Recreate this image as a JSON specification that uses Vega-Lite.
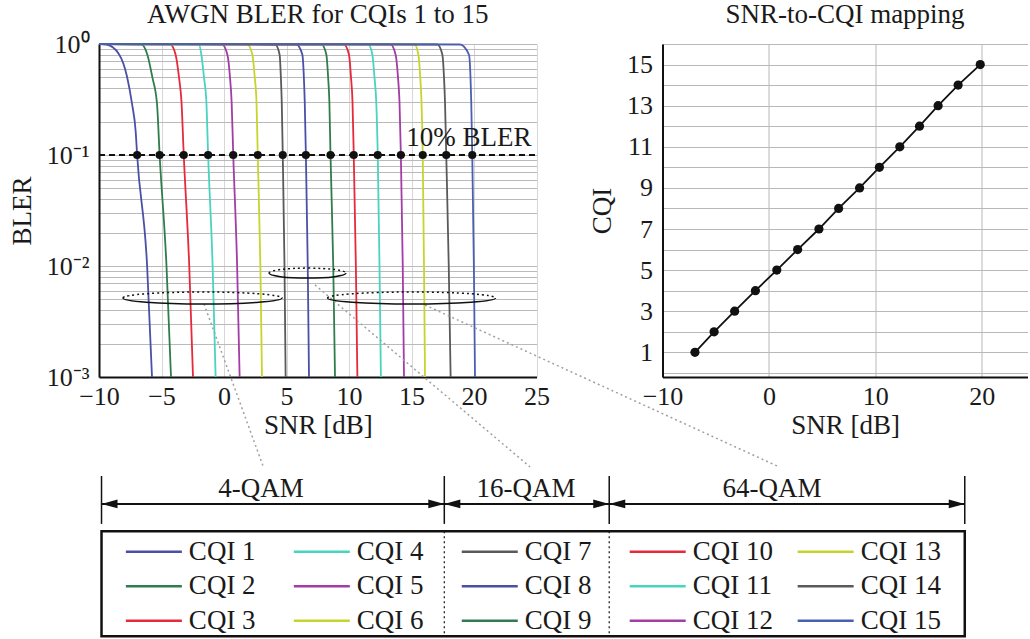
{
  "$schema": "https://vega.github.io/schema/vega-lite/v6.json",
  "padding": {"left": 8, "top": 1, "right": 0, "bottom": 0},
  "background": "white",
  "config": {
    "font": "Liberation Serif",
    "view": {"stroke": null},
    "axis": {"ticks": false, "domainColor": "#111111", "domainWidth": 2, "labelFontSize": 26, "titleFontSize": 27, "titleFontWeight": "normal", "labelColor": "#1a1a1a", "titleColor": "#1a1a1a", "gridWidth": 1, "labelFont": "Liberation Serif", "titleFont": "Liberation Serif"},
    "title": {"fontSize": 27, "fontWeight": "normal", "color": "#1a1a1a", "font": "Liberation Serif", "offset": 2, "anchor": "middle"},
    "text": {"font": "Liberation Serif"}
  },
  "datasets": {
    "map": [
      {"cqi": 1, "snr": -6.95}, {"cqi": 2, "snr": -5.15}, {"cqi": 3, "snr": -3.22}, {"cqi": 4, "snr": -1.27}, {"cqi": 5, "snr": 0.74},
      {"cqi": 6, "snr": 2.7}, {"cqi": 7, "snr": 4.7}, {"cqi": 8, "snr": 6.55}, {"cqi": 9, "snr": 8.52}, {"cqi": 10, "snr": 10.38},
      {"cqi": 11, "snr": 12.3}, {"cqi": 12, "snr": 14.15}, {"cqi": 13, "snr": 15.9}, {"cqi": 14, "snr": 17.78}, {"cqi": 15, "snr": 19.86}
    ],
    "bler": [
      {"cqi": "CQI 1", "snr": -10, "bler": 1}, {"cqi": "CQI 1", "snr": -9.4, "bler": 0.99}, {"cqi": "CQI 1", "snr": -8.4, "bler": 0.81}, {"cqi": "CQI 1", "snr": -7.76, "bler": 0.51}, {"cqi": "CQI 1", "snr": -7.36, "bler": 0.29}, {"cqi": "CQI 1", "snr": -7.06, "bler": 0.16}, {"cqi": "CQI 1", "snr": -6.95, "bler": 0.1}, {"cqi": "CQI 1", "snr": -6.15, "bler": 0.01}, {"cqi": "CQI 1", "snr": -5.76, "bler": 0.001},
      {"cqi": "CQI 2", "snr": -10, "bler": 1}, {"cqi": "CQI 2", "snr": -6.6, "bler": 0.99}, {"cqi": "CQI 2", "snr": -6.13, "bler": 0.8}, {"cqi": "CQI 2", "snr": -5.73, "bler": 0.5}, {"cqi": "CQI 2", "snr": -5.36, "bler": 0.29}, {"cqi": "CQI 2", "snr": -5.15, "bler": 0.1}, {"cqi": "CQI 2", "snr": -4.6, "bler": 0.01}, {"cqi": "CQI 2", "snr": -4.24, "bler": 0.001},
      {"cqi": "CQI 3", "snr": -10, "bler": 1}, {"cqi": "CQI 3", "snr": -4.3, "bler": 0.99}, {"cqi": "CQI 3", "snr": -3.87, "bler": 0.8}, {"cqi": "CQI 3", "snr": -3.6, "bler": 0.5}, {"cqi": "CQI 3", "snr": -3.4, "bler": 0.3}, {"cqi": "CQI 3", "snr": -3.22, "bler": 0.1}, {"cqi": "CQI 3", "snr": -2.78, "bler": 0.01}, {"cqi": "CQI 3", "snr": -2.48, "bler": 0.001},
      {"cqi": "CQI 4", "snr": -10, "bler": 1}, {"cqi": "CQI 4", "snr": -2.0, "bler": 0.99}, {"cqi": "CQI 4", "snr": -1.81, "bler": 0.8}, {"cqi": "CQI 4", "snr": -1.6, "bler": 0.5}, {"cqi": "CQI 4", "snr": -1.41, "bler": 0.3}, {"cqi": "CQI 4", "snr": -1.27, "bler": 0.1}, {"cqi": "CQI 4", "snr": -0.91, "bler": 0.01}, {"cqi": "CQI 4", "snr": -0.67, "bler": 0.001},
      {"cqi": "CQI 5", "snr": -10, "bler": 1}, {"cqi": "CQI 5", "snr": -0.15, "bler": 0.99}, {"cqi": "CQI 5", "snr": 0.27, "bler": 0.8}, {"cqi": "CQI 5", "snr": 0.48, "bler": 0.5}, {"cqi": "CQI 5", "snr": 0.61, "bler": 0.3}, {"cqi": "CQI 5", "snr": 0.74, "bler": 0.1}, {"cqi": "CQI 5", "snr": 1.05, "bler": 0.01}, {"cqi": "CQI 5", "snr": 1.25, "bler": 0.001},
      {"cqi": "CQI 6", "snr": -10, "bler": 1}, {"cqi": "CQI 6", "snr": 1.87, "bler": 0.99}, {"cqi": "CQI 6", "snr": 2.27, "bler": 0.8}, {"cqi": "CQI 6", "snr": 2.46, "bler": 0.5}, {"cqi": "CQI 6", "snr": 2.6, "bler": 0.3}, {"cqi": "CQI 6", "snr": 2.7, "bler": 0.1}, {"cqi": "CQI 6", "snr": 2.91, "bler": 0.01}, {"cqi": "CQI 6", "snr": 3.04, "bler": 0.001},
      {"cqi": "CQI 7", "snr": -10, "bler": 1}, {"cqi": "CQI 7", "snr": 4.1, "bler": 0.99}, {"cqi": "CQI 7", "snr": 4.45, "bler": 0.8}, {"cqi": "CQI 7", "snr": 4.55, "bler": 0.5}, {"cqi": "CQI 7", "snr": 4.62, "bler": 0.3}, {"cqi": "CQI 7", "snr": 4.7, "bler": 0.1}, {"cqi": "CQI 7", "snr": 4.84, "bler": 0.01}, {"cqi": "CQI 7", "snr": 4.93, "bler": 0.001},
      {"cqi": "CQI 8", "snr": -10, "bler": 1}, {"cqi": "CQI 8", "snr": 5.79, "bler": 0.99}, {"cqi": "CQI 8", "snr": 6.27, "bler": 0.8}, {"cqi": "CQI 8", "snr": 6.39, "bler": 0.5}, {"cqi": "CQI 8", "snr": 6.46, "bler": 0.3}, {"cqi": "CQI 8", "snr": 6.55, "bler": 0.1}, {"cqi": "CQI 8", "snr": 6.7, "bler": 0.01}, {"cqi": "CQI 8", "snr": 6.8, "bler": 0.001},
      {"cqi": "CQI 9", "snr": -10, "bler": 1}, {"cqi": "CQI 9", "snr": 7.81, "bler": 0.99}, {"cqi": "CQI 9", "snr": 8.19, "bler": 0.8}, {"cqi": "CQI 9", "snr": 8.33, "bler": 0.5}, {"cqi": "CQI 9", "snr": 8.43, "bler": 0.3}, {"cqi": "CQI 9", "snr": 8.52, "bler": 0.1}, {"cqi": "CQI 9", "snr": 8.74, "bler": 0.01}, {"cqi": "CQI 9", "snr": 8.88, "bler": 0.001},
      {"cqi": "CQI 10", "snr": -10, "bler": 1}, {"cqi": "CQI 10", "snr": 9.6, "bler": 0.99}, {"cqi": "CQI 10", "snr": 10.0, "bler": 0.8}, {"cqi": "CQI 10", "snr": 10.16, "bler": 0.5}, {"cqi": "CQI 10", "snr": 10.28, "bler": 0.3}, {"cqi": "CQI 10", "snr": 10.38, "bler": 0.1}, {"cqi": "CQI 10", "snr": 10.55, "bler": 0.01}, {"cqi": "CQI 10", "snr": 10.67, "bler": 0.001},
      {"cqi": "CQI 11", "snr": -10, "bler": 1}, {"cqi": "CQI 11", "snr": 11.55, "bler": 0.99}, {"cqi": "CQI 11", "snr": 11.87, "bler": 0.8}, {"cqi": "CQI 11", "snr": 12.04, "bler": 0.5}, {"cqi": "CQI 11", "snr": 12.18, "bler": 0.3}, {"cqi": "CQI 11", "snr": 12.3, "bler": 0.1}, {"cqi": "CQI 11", "snr": 12.44, "bler": 0.01}, {"cqi": "CQI 11", "snr": 12.55, "bler": 0.001},
      {"cqi": "CQI 12", "snr": -10, "bler": 1}, {"cqi": "CQI 12", "snr": 13.33, "bler": 0.99}, {"cqi": "CQI 12", "snr": 13.73, "bler": 0.8}, {"cqi": "CQI 12", "snr": 13.92, "bler": 0.5}, {"cqi": "CQI 12", "snr": 14.04, "bler": 0.3}, {"cqi": "CQI 12", "snr": 14.15, "bler": 0.1}, {"cqi": "CQI 12", "snr": 14.3, "bler": 0.01}, {"cqi": "CQI 12", "snr": 14.4, "bler": 0.001},
      {"cqi": "CQI 13", "snr": -10, "bler": 1}, {"cqi": "CQI 13", "snr": 15.25, "bler": 0.99}, {"cqi": "CQI 13", "snr": 15.55, "bler": 0.8}, {"cqi": "CQI 13", "snr": 15.7, "bler": 0.5}, {"cqi": "CQI 13", "snr": 15.8, "bler": 0.3}, {"cqi": "CQI 13", "snr": 15.9, "bler": 0.1}, {"cqi": "CQI 13", "snr": 16.0, "bler": 0.01}, {"cqi": "CQI 13", "snr": 16.08, "bler": 0.001},
      {"cqi": "CQI 14", "snr": -10, "bler": 1}, {"cqi": "CQI 14", "snr": 17.07, "bler": 0.99}, {"cqi": "CQI 14", "snr": 17.47, "bler": 0.8}, {"cqi": "CQI 14", "snr": 17.6, "bler": 0.5}, {"cqi": "CQI 14", "snr": 17.68, "bler": 0.3}, {"cqi": "CQI 14", "snr": 17.78, "bler": 0.1}, {"cqi": "CQI 14", "snr": 17.98, "bler": 0.01}, {"cqi": "CQI 14", "snr": 18.13, "bler": 0.001},
      {"cqi": "CQI 15", "snr": -10, "bler": 1}, {"cqi": "CQI 15", "snr": 18.88, "bler": 0.99}, {"cqi": "CQI 15", "snr": 19.6, "bler": 0.8}, {"cqi": "CQI 15", "snr": 19.72, "bler": 0.5}, {"cqi": "CQI 15", "snr": 19.78, "bler": 0.3}, {"cqi": "CQI 15", "snr": 19.86, "bler": 0.1}, {"cqi": "CQI 15", "snr": 19.99, "bler": 0.01}, {"cqi": "CQI 15", "snr": 20.08, "bler": 0.001}
    ],
    "legend": [
      {"cqi": "CQI 1", "c": 0, "r": 0}, {"cqi": "CQI 2", "c": 0, "r": 1}, {"cqi": "CQI 3", "c": 0, "r": 2},
      {"cqi": "CQI 4", "c": 1, "r": 0}, {"cqi": "CQI 5", "c": 1, "r": 1}, {"cqi": "CQI 6", "c": 1, "r": 2},
      {"cqi": "CQI 7", "c": 2, "r": 0}, {"cqi": "CQI 8", "c": 2, "r": 1}, {"cqi": "CQI 9", "c": 2, "r": 2},
      {"cqi": "CQI 10", "c": 3, "r": 0}, {"cqi": "CQI 11", "c": 3, "r": 1}, {"cqi": "CQI 12", "c": 3, "r": 2},
      {"cqi": "CQI 13", "c": 4, "r": 0}, {"cqi": "CQI 14", "c": 4, "r": 1}, {"cqi": "CQI 15", "c": 4, "r": 2}
    ]
  },
  "bounds": "flush",
  "columns": 2,
  "spacing": {"row": 99, "column": 125.5},
  "concat": [
    {
      "width": 437.5,
      "height": 333,
      "title": {"text": "AWGN BLER for CQIs 1 to 15"},
      "layer": [
        {
          "data": {"name": "bler"},
          "mark": {"type": "line", "interpolate": "monotone", "strokeWidth": 1.8},
          "encoding": {
            "x": {"field": "snr", "type": "quantitative", "title": "SNR [dB]", "scale": {"domain": [-10, 25], "nice": false, "zero": false}, "axis": {"values": [-10, -5, 0, 5, 10, 15, 20, 25], "gridColor": "#d6d6d6", "labelPadding": 6, "titlePadding": 3, "labelFlush": false}},
            "y": {"field": "bler", "type": "quantitative", "title": "BLER", "scale": {"type": "log", "domain": [0.001, 1], "nice": false}, "axis": {"values": [0.001, 0.002, 0.003, 0.004, 0.005, 0.006, 0.007, 0.008, 0.009, 0.01, 0.02, 0.03, 0.04, 0.05, 0.06, 0.07, 0.08, 0.09, 0.1, 0.2, 0.3, 0.4, 0.5, 0.6, 0.7, 0.8, 0.9, 1], "labelExpr": "datum.value == 1 ? '10⁰' : datum.value == 0.1 ? '10⁻¹' : datum.value == 0.01 ? '10⁻²' : datum.value == 0.001 ? '10⁻³' : ''", "labelOverlap": false, "labelPadding": 10, "titlePadding": 10, "gridColor": "#bababa"}},
            "color": {"field": "cqi", "type": "nominal", "legend": null, "scale": {"domain": ["CQI 1", "CQI 2", "CQI 3", "CQI 4", "CQI 5", "CQI 6", "CQI 7", "CQI 8", "CQI 9", "CQI 10", "CQI 11", "CQI 12", "CQI 13", "CQI 14", "CQI 15"], "range": ["#4b4fa6", "#2f7d4c", "#e52a3a", "#48d4c0", "#a23ca6", "#c8d42e", "#5a5a5a", "#4b4fa6", "#2f7d4c", "#e52a3a", "#48d4c0", "#a23ca6", "#c8d42e", "#5a5a5a", "#4b5fb0"]}}
          }
        },
        {
          "data": {"values": [{"snr": -10, "snr_end": 25, "bler": 0.1}]},
          "mark": {"type": "rule", "color": "#111111", "strokeWidth": 2, "strokeDash": [6, 4]},
          "encoding": {
            "x": {"field": "snr", "type": "quantitative", "title": "SNR [dB]"},
            "x2": {"field": "snr_end"},
            "y": {"field": "bler", "type": "quantitative", "title": "BLER"}
          }
        },
        {
          "data": {"name": "map"},
          "mark": {"type": "point", "filled": true, "color": "#111111", "size": 66, "opacity": 1},
          "encoding": {
            "x": {"field": "snr", "type": "quantitative", "title": "SNR [dB]"},
            "y": {"datum": 0.1}
          }
        },
        {
          "data": {"values": [{"snr": 24.6, "bler": 0.12, "label": "10% BLER"}]},
          "mark": {"type": "text", "fontSize": 27, "align": "right", "baseline": "alphabetic", "color": "#1a1a1a"},
          "encoding": {
            "x": {"field": "snr", "type": "quantitative", "title": "SNR [dB]"},
            "y": {"field": "bler", "type": "quantitative", "title": "BLER"},
            "text": {"field": "label"}
          }
        },
        {
          "data": {"values": [{"snr": -1.6, "bler": 0.00455, "conn": "4-QAM"}, {"snr": 3.12, "bler": 0.000158, "conn": "4-QAM"}, {"snr": 7.28, "bler": 0.00675, "conn": "16-QAM"}, {"snr": 24.48, "bler": 0.000155, "conn": "16-QAM"}, {"snr": 16.08, "bler": 0.00445, "conn": "64-QAM"}, {"snr": 44.24, "bler": 0.000158, "conn": "64-QAM"}]},
          "mark": {"type": "line", "color": "#a0a0a0", "strokeWidth": 1.5, "strokeDash": [2, 3]},
          "encoding": {
            "x": {"field": "snr", "type": "quantitative", "title": "SNR [dB]"},
            "y": {"field": "bler", "type": "quantitative", "title": "BLER"},
            "detail": {"field": "conn"}
          }
        },
        {
          "data": {"values": [{"snr": -1.72, "bler": 0.00515}]},
          "mark": {"type": "point", "shape": "M-1,0C-1,0.0417,-0.5523,0.0755,0,0.0755C0.5523,0.0755,1,0.0417,1,0", "size": 25281, "filled": false, "color": "#111111", "strokeWidth": 1.5, "opacity": 1},
          "encoding": {"x": {"field": "snr", "type": "quantitative", "title": "SNR [dB]"}, "y": {"field": "bler", "type": "quantitative", "title": "BLER"}}
        },
        {
          "data": {"values": [{"snr": -1.72, "bler": 0.00515}]},
          "mark": {"type": "point", "shape": "M-1,0C-1,-0.0417,-0.5523,-0.0755,0,-0.0755C0.5523,-0.0755,1,-0.0417,1,0", "size": 25281, "filled": false, "color": "#111111", "strokeWidth": 1.5, "strokeDash": [2, 3], "opacity": 1},
          "encoding": {"x": {"field": "snr", "type": "quantitative", "title": "SNR [dB]"}, "y": {"field": "bler", "type": "quantitative", "title": "BLER"}}
        },
        {
          "data": {"values": [{"snr": 6.68, "bler": 0.00863}]},
          "mark": {"type": "point", "shape": "M-1,0C-1,0.0718,-0.5523,0.13,0,0.13C0.5523,0.13,1,0.0718,1,0", "size": 5929, "filled": false, "color": "#111111", "strokeWidth": 1.5, "opacity": 1},
          "encoding": {"x": {"field": "snr", "type": "quantitative", "title": "SNR [dB]"}, "y": {"field": "bler", "type": "quantitative", "title": "BLER"}}
        },
        {
          "data": {"values": [{"snr": 6.68, "bler": 0.00863}]},
          "mark": {"type": "point", "shape": "M-1,0C-1,-0.0718,-0.5523,-0.13,0,-0.13C0.5523,-0.13,1,-0.0718,1,0", "size": 5929, "filled": false, "color": "#111111", "strokeWidth": 1.5, "strokeDash": [2, 3], "opacity": 1},
          "encoding": {"x": {"field": "snr", "type": "quantitative", "title": "SNR [dB]"}, "y": {"field": "bler", "type": "quantitative", "title": "BLER"}}
        },
        {
          "data": {"values": [{"snr": 15.0, "bler": 0.00515}]},
          "mark": {"type": "point", "shape": "M-1,0C-1,0.0394,-0.5523,0.0714,0,0.0714C0.5523,0.0714,1,0.0394,1,0", "size": 28224, "filled": false, "color": "#111111", "strokeWidth": 1.5, "opacity": 1},
          "encoding": {"x": {"field": "snr", "type": "quantitative", "title": "SNR [dB]"}, "y": {"field": "bler", "type": "quantitative", "title": "BLER"}}
        },
        {
          "data": {"values": [{"snr": 15.0, "bler": 0.00515}]},
          "mark": {"type": "point", "shape": "M-1,0C-1,-0.0394,-0.5523,-0.0714,0,-0.0714C0.5523,-0.0714,1,-0.0394,1,0", "size": 28224, "filled": false, "color": "#111111", "strokeWidth": 1.5, "strokeDash": [2, 3], "opacity": 1},
          "encoding": {"x": {"field": "snr", "type": "quantitative", "title": "SNR [dB]"}, "y": {"field": "bler", "type": "quantitative", "title": "BLER"}}
        }
      ]
    },
    {
      "width": 365,
      "height": 333,
      "title": {"text": "SNR-to-CQI mapping"},
      "data": {"name": "map"},
      "encoding": {
        "x": {"field": "snr", "type": "quantitative", "title": "SNR [dB]", "scale": {"domain": [-10, 24.3], "nice": false, "zero": false}, "axis": {"values": [-10, 0, 10, 20], "gridColor": "#b8b8b8", "labelFlush": false, "labelPadding": 6, "titlePadding": 3}},
        "y": {"field": "cqi", "type": "quantitative", "title": "CQI", "scale": {"domain": [-0.2, 16], "nice": false, "zero": false}, "axis": {"values": [0, 1, 2, 3, 4, 5, 6, 7, 8, 9, 10, 11, 12, 13, 14, 15, 16], "labelExpr": "datum.value % 2 == 1 ? datum.label : ''", "labelOverlap": false, "gridColor": "#b8b8b8", "labelPadding": 10, "titlePadding": 10}}
      },
      "layer": [
        {"mark": {"type": "line", "color": "#111111", "strokeWidth": 1.8}},
        {"mark": {"type": "point", "filled": true, "color": "#111111", "size": 85, "opacity": 1}}
      ]
    },
    {
      "width": 437.5,
      "height": 162,
      "layer": [
        {
          "data": {"values": [{"c": -0.145}, {"c": 1.896}, {"c": 2.878}, {"c": 4.995}]},
          "mark": {"type": "rule", "color": "#111111", "strokeWidth": 1.5},
          "encoding": {
            "x": {"field": "c", "type": "quantitative", "scale": {"domain": [-0.16, 2.445], "nice": false, "zero": false}, "axis": null},
            "y": {"datum": -2.2, "scale": {"domain": [-2.2, 2.5], "nice": false, "zero": false, "reverse": true}, "axis": null},
            "y2": {"datum": -0.81}
          }
        },
        {
          "data": {"values": [{"c": 1.896}, {"c": 2.878}]},
          "mark": {"type": "rule", "color": "#111111", "strokeWidth": 1.2, "strokeDash": [2, 3]},
          "encoding": {
            "x": {"field": "c", "type": "quantitative", "axis": null},
            "y": {"datum": -0.6, "axis": null},
            "y2": {"datum": 2.45}
          }
        },
        {
          "data": {"values": [{"c": -0.145, "c2": 1.896}, {"c": 1.896, "c2": 2.878}, {"c": 2.878, "c2": 4.995}]},
          "mark": {"type": "rule", "color": "#111111", "strokeWidth": 2},
          "encoding": {
            "x": {"field": "c", "type": "quantitative", "axis": null},
            "x2": {"field": "c2"},
            "y": {"datum": -1.39, "axis": null}
          }
        },
        {
          "data": {"values": [{"c": -0.145}, {"c": 1.896}, {"c": 2.878}]},
          "mark": {"type": "point", "shape": "M-1,0L1,-0.55L1,0.55Z", "size": 256, "filled": true, "color": "#111111", "opacity": 1, "xOffset": 8},
          "encoding": {
            "x": {"field": "c", "type": "quantitative", "axis": null},
            "y": {"datum": -1.39, "axis": null}
          }
        },
        {
          "data": {"values": [{"c": 1.896}, {"c": 2.878}, {"c": 4.995}]},
          "mark": {"type": "point", "shape": "M1,0L-1,-0.55L-1,0.55Z", "size": 256, "filled": true, "color": "#111111", "opacity": 1, "xOffset": -8},
          "encoding": {
            "x": {"field": "c", "type": "quantitative", "axis": null},
            "y": {"datum": -1.39, "axis": null}
          }
        },
        {
          "data": {"values": [{"label": "4-QAM", "c": 0.805}, {"label": "16-QAM", "c": 2.383}, {"label": "64-QAM", "c": 3.847}]},
          "mark": {"type": "text", "fontSize": 27, "align": "center", "baseline": "middle", "color": "#1a1a1a"},
          "encoding": {
            "x": {"field": "c", "type": "quantitative", "axis": null},
            "y": {"datum": -1.82, "axis": null},
            "text": {"field": "label"}
          }
        },
        {
          "data": {"values": [{"c": -0.145, "c2": 4.995, "r": -0.6, "r2": 2.45}]},
          "mark": {"type": "rect", "filled": false, "color": "#111111", "strokeWidth": 2.5},
          "encoding": {
            "x": {"field": "c", "type": "quantitative", "axis": null},
            "x2": {"field": "c2"},
            "y": {"field": "r", "type": "quantitative", "axis": null},
            "y2": {"field": "r2"}
          }
        },
        {
          "data": {"name": "legend"},
          "mark": {"type": "rule", "strokeWidth": 2.5, "x2Offset": 56},
          "encoding": {
            "x": {"field": "c", "type": "quantitative", "axis": null},
            "x2": {"field": "c"},
            "y": {"field": "r", "type": "quantitative", "axis": null},
            "color": {"field": "cqi", "type": "nominal", "legend": null, "scale": {"domain": ["CQI 1", "CQI 2", "CQI 3", "CQI 4", "CQI 5", "CQI 6", "CQI 7", "CQI 8", "CQI 9", "CQI 10", "CQI 11", "CQI 12", "CQI 13", "CQI 14", "CQI 15"], "range": ["#4b4fa6", "#2f7d4c", "#e52a3a", "#48d4c0", "#a23ca6", "#c8d42e", "#5a5a5a", "#4b4fa6", "#2f7d4c", "#e52a3a", "#48d4c0", "#a23ca6", "#c8d42e", "#5a5a5a", "#4b5fb0"]}}
          }
        },
        {
          "data": {"name": "legend"},
          "mark": {"type": "text", "fontSize": 27, "align": "left", "baseline": "middle", "dx": 63, "color": "#1a1a1a"},
          "encoding": {
            "x": {"field": "c", "type": "quantitative", "axis": null},
            "y": {"field": "r", "type": "quantitative", "axis": null},
            "text": {"field": "cqi"}
          }
        }
      ]
    }
  ]
}
